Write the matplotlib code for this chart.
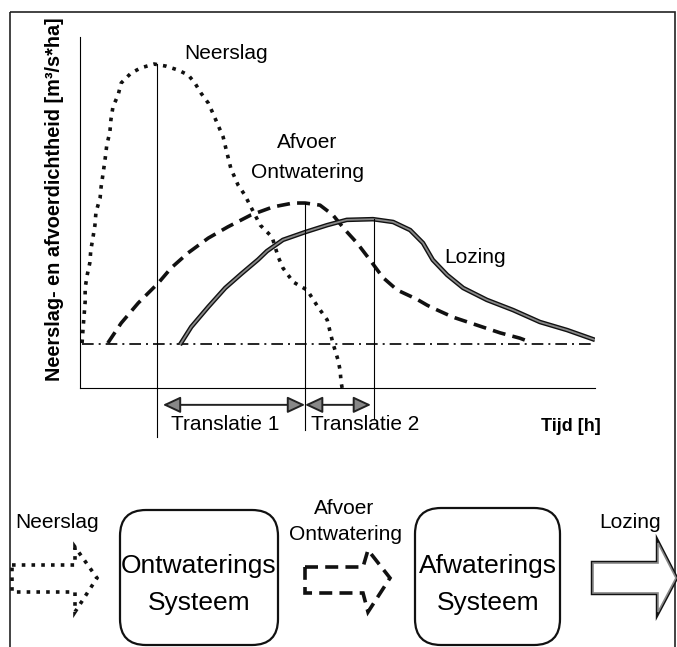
import matplotlib
matplotlib.use("Agg")
import matplotlib.pyplot as plt
import matplotlib.patheffects as pe
from matplotlib.patches import FancyBboxPatch, Polygon, Rectangle, FancyArrowPatch

# schematische hydrogrammen (tijd, dichtheid)
neerslag_t = [0.4, 0.6, 0.8, 1.0, 1.0, 1.4, 1.9, 2.1, 2.5, 2.9, 3.1, 3.9, 4.1, 4.5, 4.9, 5.2,
              5.8, 6.0, 6.4, 7.4, 8.0, 9.9, 11.8, 14.4, 16.7, 19.0, 21.0, 22.3, 23.5, 24.9,
              25.8, 26.8, 27.8, 28.4, 29.3, 30.7, 32.0, 33.0, 35.0, 37.3, 38.5, 39.4, 41.4,
              44.1, 46.2, 48.0, 49.1, 50.1, 50.5, 50.7, 50.9]
neerslag_v = [12.8, 17.1, 20.8, 24.5, 28.5, 32.2, 35.6, 39.3, 42.7, 46.4, 50.1, 54.1, 57.3, 61.3,
              65.5, 69.2, 72.9, 76.4, 80.1, 83.5, 86.9, 89.7, 91.2, 92.3, 91.7, 90.6, 89.2, 86.9,
              84.0, 81.2, 78.3, 74.9, 71.5, 67.8, 62.5, 57.8, 55.0, 52.1, 46.4, 43.0, 37.3, 34.2,
              30.2, 27.9, 23.1, 19.4, 12.8, 8.0, 5.1, 1.7, 0.0]

afvoer_t = [5.4, 8.0, 11.3, 15.2, 17.7, 21.0, 24.9, 28.7, 33.2, 37.5, 41.4, 43.7, 46.6, 49.1,
            51.5, 53.8, 56.3, 58.8, 61.6, 65.4, 67.4, 68.5, 72.4, 77.1, 81.6, 85.4, 87.4]
afvoer_v = [12.8, 18.5, 24.2, 29.9, 34.2, 38.5, 42.7, 45.9, 49.3, 51.6, 52.7, 52.7, 52.1, 49.3,
            45.0, 41.3, 36.5, 31.5, 27.9, 25.3, 23.6, 22.8, 20.2, 17.9, 15.7, 14.2, 13.1]

lozing_t = [19.4, 21.6, 24.9, 28.2, 31.3, 34.6, 36.3, 39.4, 43.7, 48.0, 51.8, 56.9, 60.8, 64.1,
            66.6, 68.5, 71.3, 74.4, 79.0, 84.1, 89.3, 94.6, 100.0]
lozing_v = [12.3, 17.4, 23.1, 28.5, 32.5, 36.6, 39.0, 42.2, 44.4, 46.4, 47.9, 48.1, 47.3, 45.0,
            41.3, 36.5, 32.2, 28.5, 25.1, 22.2, 18.8, 16.5, 13.7]

basis_v = 12.5
pieken_t = [15.0, 43.7, 57.1]           # Neerslag, Afvoer, Lozing
pieken_onder = [-14.0, -12.0, -8.5]
translaties = [(16.1, 43.7), (43.7, 56.5)]
translatie_labels = ["Translatie 1", "Translatie 2"]
translatie_x = [28.2, 55.3]

font = ["Liberation Sans", "DejaVu Sans"]

fig = plt.figure(figsize=(6.77, 6.47), dpi=100)

# overlay in pixelcoordinaten voor het blokschema
ov = fig.add_axes([0, 0, 1, 1])
ov.set_xlim(0, 677)
ov.set_ylim(647, 0)
ov.axis("off")

ov.add_patch(Rectangle((10, 12), 665, 650, fill=False, ec="#222222", lw=1.2, clip_on=False))

# grafiek
ax = fig.add_axes([80 / 677, (647 - 388) / 647, 515 / 677, 351 / 647])
ax.set_xlim(0, 100)
ax.set_ylim(0, 100)
ax.patch.set_alpha(0)
for s in ["top", "right"]:
    ax.spines[s].set_visible(False)
for s in ["left", "bottom"]:
    ax.spines[s].set_linewidth(0.8)
ax.set_xticks([])
ax.set_yticks([])

ax.plot([0.4, 100], [basis_v, basis_v], color="black", lw=1.2, dashes=(7, 3, 1.2, 3))
ax.plot(neerslag_t, neerslag_v, color="#111111", lw=2.6, dashes=(1, 1.7), clip_on=False)
ax.plot(afvoer_t, afvoer_v, color="#111111", lw=2.6, dashes=(3.6, 2.0), clip_on=False)
ax.plot(lozing_t, lozing_v, color="#888888", lw=1.3, solid_capstyle="butt",
        path_effects=[pe.Stroke(linewidth=3.3, foreground="#111111"), pe.Normal()])

pieken_v = [max(neerslag_v), max(afvoer_v), max(lozing_v)]
for t, top, bot in zip(pieken_t, pieken_v, pieken_onder):
    ax.plot([t, t], [bot, top], color="black", lw=0.8, clip_on=False)

for (a, b), lab, xl in zip(translaties, translatie_labels, translatie_x):
    arr = FancyArrowPatch((a, -4.8), (b, -4.8), arrowstyle="<|-|>,head_length=0.9,head_width=0.42",
                          mutation_scale=12, fc="#888888", ec="#222222", lw=1.4, clip_on=False,
                          shrinkA=0, shrinkB=0)
    ax.add_patch(arr)
    ax.text(xl, -10.5, lab, ha="center", va="center", fontsize=15, family=font)

ax.text(28.3, 95.2, "Neerslag", ha="center", va="center", fontsize=15, family=font)
ax.text(44.1, 70.0, "Afvoer", ha="center", va="center", fontsize=15, family=font)
ax.text(44.1, 61.5, "Ontwatering", ha="center", va="center", fontsize=15, family=font)
ax.text(76.7, 37.3, "Lozing", ha="center", va="center", fontsize=15, family=font)
ax.text(95.3, -11.1, "Tijd [h]", ha="center", va="center", fontsize=13, fontweight="bold", family=font)

ov.text(55, 199, "Neerslag- en afvoerdichtheid [m³/s*ha]", rotation=90, ha="center", va="center",
        fontsize=14.3, fontweight="bold", family=font)

# blokschema
ov.add_patch(FancyBboxPatch((120, 510), 158, 135, boxstyle="round,pad=0,rounding_size=26",
                            fc="white", ec="#111111", lw=1.6, clip_on=False))
ov.add_patch(FancyBboxPatch((415, 508), 145, 137, boxstyle="round,pad=0,rounding_size=26",
                            fc="white", ec="#111111", lw=1.6, clip_on=False))
ov.text(199, 566, "Ontwaterings", ha="center", va="center", fontsize=19, family=font)
ov.text(199, 603, "Systeem", ha="center", va="center", fontsize=19, family=font)
ov.text(488, 566, "Afwaterings", ha="center", va="center", fontsize=19, family=font)
ov.text(488, 603, "Systeem", ha="center", va="center", fontsize=19, family=font)

ov.text(57, 523, "Neerslag", ha="center", va="center", fontsize=15, family=font)
ov.text(344, 508, "Afvoer", ha="center", va="center", fontsize=15, family=font)
ov.text(346, 535, "Ontwatering", ha="center", va="center", fontsize=15, family=font)
ov.text(630, 522, "Lozing", ha="center", va="center", fontsize=15, family=font)

pijl1 = [(12, 565), (75, 565), (75, 547), (97, 578), (75, 612), (75, 592), (12, 592)]
ov.add_patch(Polygon(pijl1, closed=True, fill=False, ec="#111111", lw=2.6, linestyle=(0, (1, 1.7))))
pijl2 = [(305, 567), (363, 567), (368, 550), (390, 578), (368, 612), (363, 593), (305, 593)]
ov.add_patch(Polygon(pijl2, closed=True, fill=False, ec="#111111", lw=2.6, linestyle=(0, (3.6, 2.0))))
pijl3 = [(593, 563), (658, 563), (658, 543), (676, 578), (658, 612), (658, 593), (593, 593)]
ov.add_patch(Polygon(pijl3, closed=True, fc="white", ec="#888888", lw=1.2,
                     path_effects=[pe.Stroke(linewidth=3.2, foreground="#111111"), pe.Normal()]))

fig.savefig("out.png", dpi=100)
